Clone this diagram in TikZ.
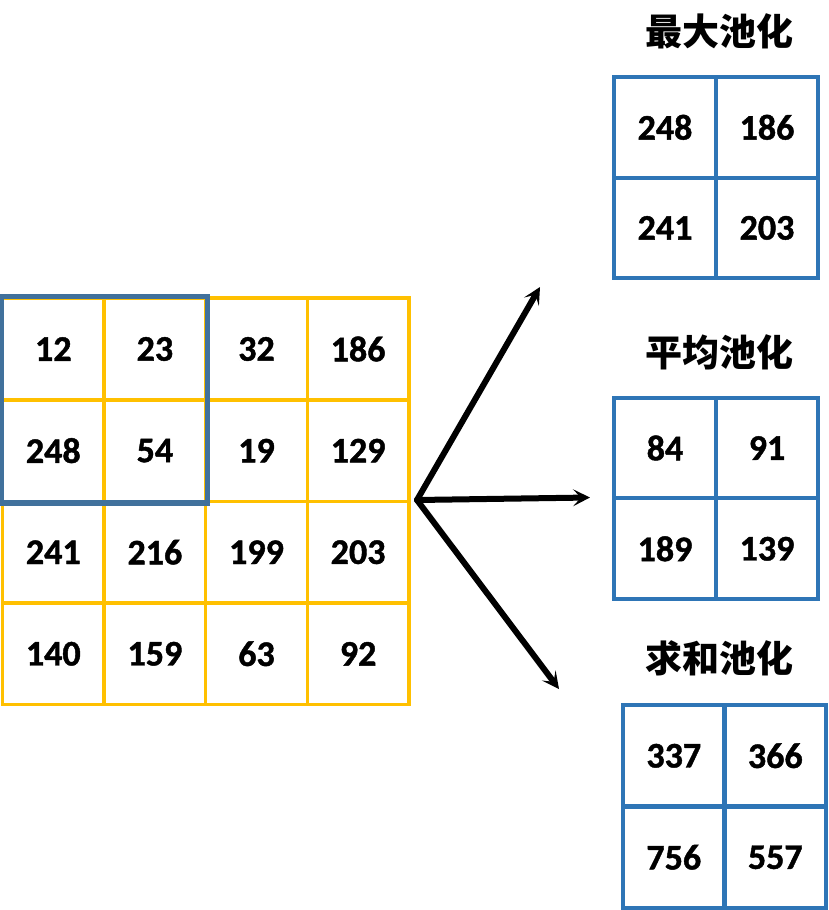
\documentclass[tikz,border=0pt]{standalone}
\usepackage{fontspec}
\setmainfont{Carlito}[BoldFeatures={FakeBold=1.2}]
\newfontfamily\cjk{Noto Sans CJK SC}
\usetikzlibrary{arrows.meta}
\definecolor{ygrid}{HTML}{FFC000}
\definecolor{hblue}{HTML}{41719C}
\definecolor{rblue}{HTML}{2E75B6}
\begin{document}
\begin{tikzpicture}[x=1pt,y=-1pt,
  numtxt/.style={font={\bfseries\fontsize{36}{40}\selectfont}, text=black},
  ycell/.style={numtxt, draw=ygrid, line width=3.5pt, minimum width=101.6pt, minimum height=101.6pt, inner sep=0pt},
  bcell/.style={numtxt, draw=rblue, line width=4pt, minimum width=102pt, minimum height=100.8pt, inner sep=0pt},
  ttl/.style={font={\cjk\bfseries\fontsize{37}{40}\selectfont}, text=black, inner sep=0pt},
  arr/.style={line width=6pt, line cap=round, -{Stealth[length=17pt,width=17pt,inset=8pt]}}
]
\useasboundingbox (0,0) rectangle (829,910);
% main 4x4 grid
\node[ycell] (c11) at (53.3,349) {12};
\node[ycell] (c12) at (154.9,349) {23};
\node[ycell] (c13) at (256.5,349) {32};
\node[ycell] (c14) at (358.1,349) {186};
\node[ycell] (c21) at (53.3,450.6) {248};
\node[ycell] (c22) at (154.9,450.6) {54};
\node[ycell] (c23) at (256.5,450.6) {19};
\node[ycell] (c24) at (358.1,450.6) {129};
\node[ycell] (c31) at (53.3,552.2) {241};
\node[ycell] (c32) at (154.9,552.2) {216};
\node[ycell] (c33) at (256.5,552.2) {199};
\node[ycell] (c34) at (358.1,552.2) {203};
\node[ycell] (c41) at (53.3,653.8) {140};
\node[ycell] (c42) at (154.9,653.8) {159};
\node[ycell] (c43) at (256.5,653.8) {63};
\node[ycell] (c44) at (358.1,653.8) {92};
\draw[hblue, line width=5.5pt] (c11.north west) rectangle (c22.south east);
% max pooling
\node[ttl] (t1) at (719,31) {最大池化};
\node[bcell] (m11) at (665,127.3) {248};
\node[bcell] (m12) at (767,127.3) {186};
\node[bcell] (m21) at (665,227.9) {241};
\node[bcell] (m22) at (767,227.9) {203};
% average pooling
\node[ttl] (t2) at (719,352) {平均池化};
\node[bcell] (a11) at (665,448) {84};
\node[bcell] (a12) at (767,448) {91};
\node[bcell] (a21) at (665,548.8) {189};
\node[bcell] (a22) at (767,548.8) {139};
% sum pooling
\node[ttl] (t3) at (719,658) {求和池化};
\node[bcell] (s11) at (673.8,755.8) {337};
\node[bcell] (s12) at (775.3,755.8) {366};
\node[bcell] (s21) at (673.8,857.3) {756};
\node[bcell] (s22) at (775.3,857.3) {557};
% arrows
\coordinate (src) at (417,500);
\coordinate (e1) at (540,287);
\coordinate (e2) at (590,497.5);
\coordinate (e3) at (559,689);
\draw[arr] (src) -- (e1);
\draw[arr] (src) -- (e2);
\draw[arr] (src) -- (e3);
\end{tikzpicture}
\end{document}
